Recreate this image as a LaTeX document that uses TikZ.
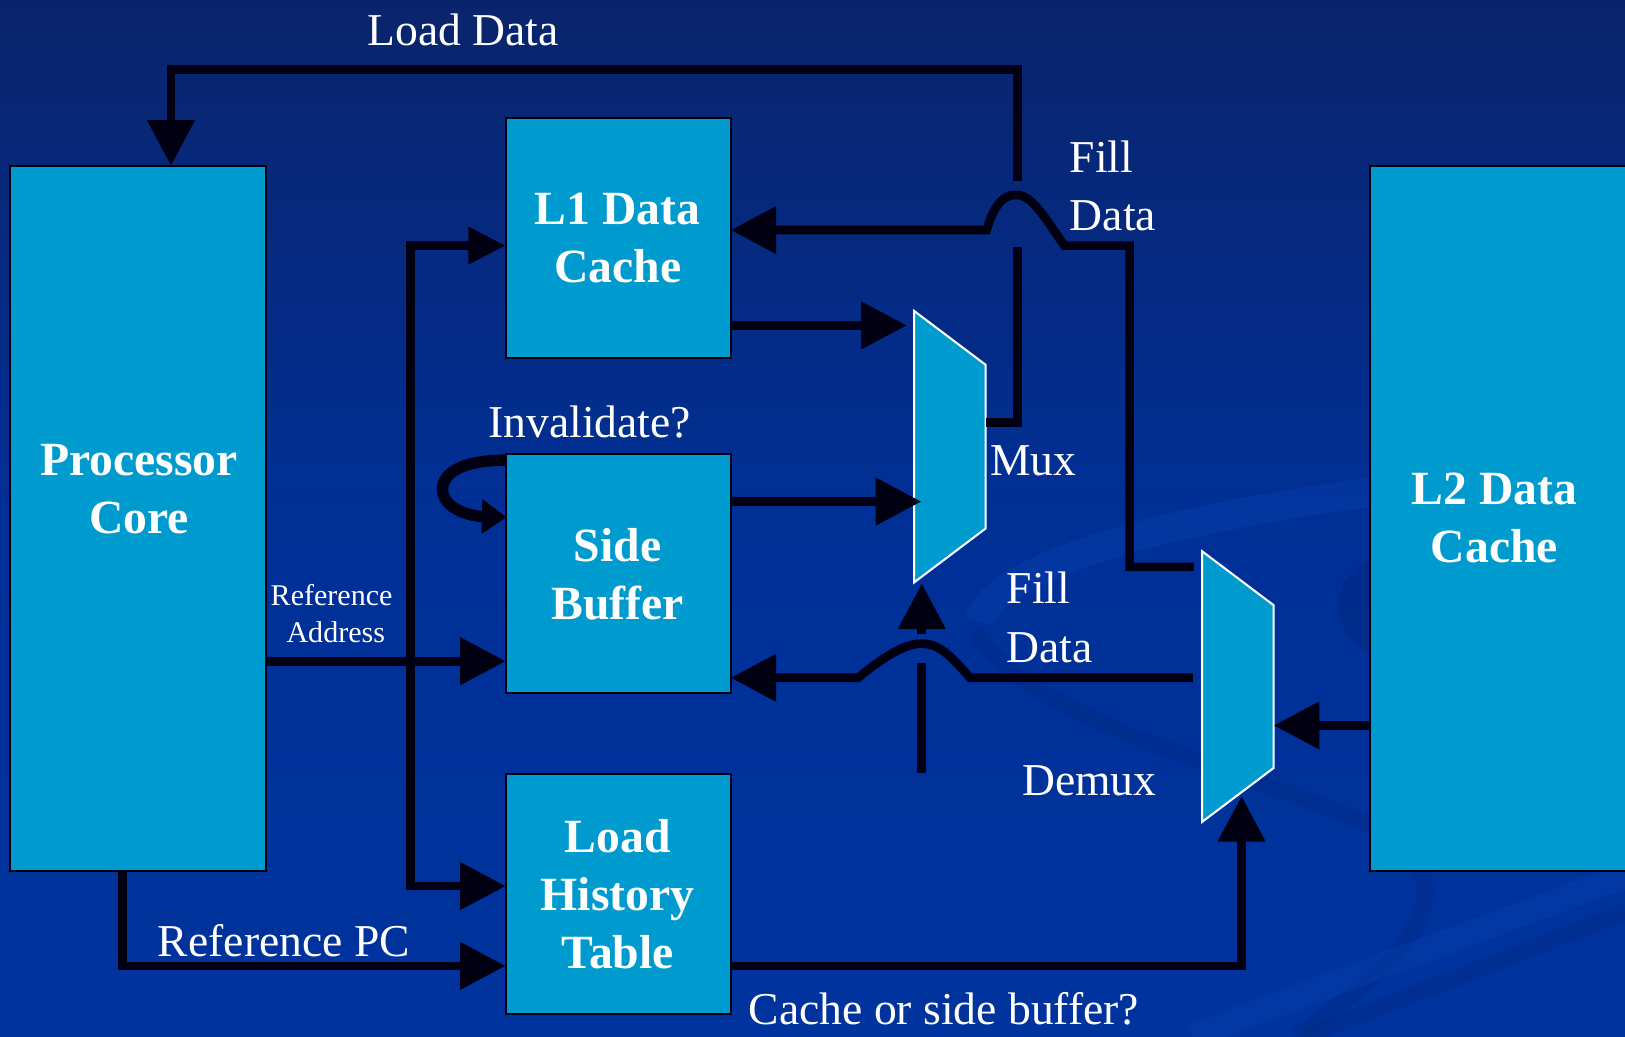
\documentclass[tikz,border=0pt]{standalone}
\usepackage{fontspec}
\setmainfont{Liberation Serif}
\usetikzlibrary{arrows.meta}
\definecolor{bgtop}{RGB}{10,36,108}
\definecolor{bgmid}{RGB}{0,48,150}
\definecolor{bgbot}{RGB}{0,51,158}
\definecolor{swA}{RGB}{10,66,178}
\definecolor{swB}{RGB}{0,40,130}
\definecolor{boxfill}{RGB}{0,155,206}
\definecolor{wire}{RGB}{0,0,18}
\begin{document}
\begin{tikzpicture}[x=0.5pt,y=-0.5pt,
  box/.style={draw=wire, line width=1pt, fill=boxfill, inner sep=0pt, outer sep=0pt},
  muxshape/.style={draw=white, line width=1pt, fill=boxfill},
  boxtxt/.style={text=white, font=\fontsize{23}{28}\selectfont\bfseries, align=center, inner sep=0pt},
  lbl/.style={text=white, font=\fontsize{22}{27}\selectfont, inner sep=0pt},
  smalllbl/.style={text=white, font=\fontsize{14.5}{18}\selectfont, inner sep=0pt},
  wireline/.style={draw=wire, line width=4.2pt},
  big/.style={-{Triangle[length=22pt,width=22pt]}},
]
\useasboundingbox (0,0) rectangle (1568,1000);
% background
\shade[top color=bgtop, bottom color=bgbot, middle color=bgmid] (0,0) rectangle (1568,1000);
\begin{scope}
\clip (0,0) rectangle (1568,1000);
\draw[swA, line width=14pt, opacity=0.35] (945,600) .. controls (960,530) and (1250,470) .. (1568,452);
\draw[swB, line width=8pt, opacity=0.35] (940,610) .. controls (1000,700) and (1200,740) .. (1330,800) .. controls (1400,840) and (1400,900) .. (1250,1000);
\draw[swA, line width=12pt, opacity=0.35] (1150,1000) -- (1568,845);
\draw[swB, line width=8pt, opacity=0.4] (1260,1000) -- (1568,880);
\fill[swB, opacity=0.5] (1322,540) .. controls (1280,560) and (1280,610) .. (1322,630) -- cycle;
\end{scope}

% boxes
\node[box, minimum width=123.5pt, minimum height=340pt] (proc) at (133.5,500) {};
\node[box, minimum width=108.5pt, minimum height=115.5pt] (l1) at (596.5,229.5) {};
\node[box, minimum width=108.5pt, minimum height=115.5pt] (sb) at (596.5,553.5) {};
\node[box, minimum width=108.5pt, minimum height=115.5pt] (lht) at (596.5,862.5) {};
\node[box, minimum width=129pt, minimum height=340pt] (l2) at (1451,500) {};

\node[boxtxt] (proct) at (134,472) {Processor\\Core};
\node[boxtxt] (l1t) at (596,230) {L1 Data\\Cache};
\node[boxtxt] (sbt) at (596,554) {Side\\Buffer};
\node[boxtxt] (lhtt) at (596,863) {Load\\History\\Table};
\node[boxtxt] (l2t) at (1442,500) {L2 Data\\Cache};

% mux and demux
\draw[muxshape] (882,300) -- (951,352) -- (951,510) -- (882,562) -- cycle;
\draw[muxshape] (1160,532) -- (1229,584) -- (1229,741) -- (1160,793) -- cycle;
\coordinate (muxinA) at (875,314);
\coordinate (muxinB) at (889,484);
\coordinate (muxout) at (951,408);
\coordinate (muxsel) at (889.5,563);
\coordinate (dmxin) at (1229,700);
\coordinate (dmxoutA) at (1152,547);
\coordinate (dmxoutB) at (1151,654);
\coordinate (dmxsel) at (1198,768);

% load data
\draw[wireline] (muxout) -- (982,408) -- (982,238);
\draw[wireline,big] (982,175) |- (165,67) -- (165,67 |- proc.north);
% L1 -> mux, side buffer -> mux
\draw[wireline,big] (l1.east |- 0,314) -- (muxinA);
\draw[wireline,big] (sb.east |- 0,484) -- (muxinB);
% fill data to L1 (hop)
\draw[wireline,big] (dmxoutA) -| (1090,237) -- (1027,237)
  .. controls (1005,205) and (995,188) .. (980,188)
  .. controls (966,188) and (958,202) .. (952,222) -- (l1.east |- 0,222);
% fill data to side buffer (hop)
\draw[wireline,big] (dmxoutB) -- (936,654)
  .. controls (915,630) and (905,621) .. (889,621)
  .. controls (870,621) and (845,640) .. (828,654) -- (sb.east |- 0,654);
% mux select
\draw[wireline] (889.5,746) -- (889.5,640);
\draw[wireline,big] (889.5,612) -- (muxsel);
% L2 -> demux
\draw[wireline,big] (l2.west |- 0,700) -- (dmxin);
% LHT -> demux select
\draw[wireline,big] (lht.east |- 0,932) -| (dmxsel);
% reference address
\draw[wireline,big] (proc.east |- 0,638) -- (sb.west |- 0,638);
\draw[wireline,-{Triangle[length=18pt,width=17pt]}] (396,638) |- (l1.west |- 0,237);
\draw[wireline,big] (396,638) |- (lht.west |- 0,855);
% reference PC
\draw[wireline,big] (proc.south -| 118,0) |- (lht.west |- 0,932);
% invalidate loop
\draw[draw=wire, line width=5.5pt, -{Triangle[length=12pt,width=16pt]}]
  (sb.north west |- 0,444) .. controls (445,444) and (427,457) .. (427,472)
  .. controls (427,489) and (450,498) .. (489,499);

% labels
\node[lbl, anchor=base] (ldl) at (447,44) {Load Data};
\node[lbl, anchor=base west] (fd1a) at (1032,166) {Fill};
\node[lbl, anchor=base west] (fd1b) at (1032,222) {Data};
\node[lbl, anchor=base west] (muxl) at (955,459) {Mux};
\node[lbl, anchor=base west] (fd2a) at (971,582) {Fill};
\node[lbl, anchor=base west] (fd2b) at (971,639) {Data};
\node[lbl, anchor=base west] (dmxl) at (986,768) {Demux};
\node[lbl, anchor=base] (inv) at (569,422) {Invalidate?};
\node[smalllbl, anchor=base] (ra1) at (320,584) {Reference};
\node[smalllbl, anchor=base] (ra2) at (324,620) {Address};
\node[lbl, anchor=base west] (rpc) at (152,923) {Reference PC};
\node[lbl, anchor=base west] (cosb) at (722,989) {Cache or side buffer?};
\end{tikzpicture}
\end{document}
